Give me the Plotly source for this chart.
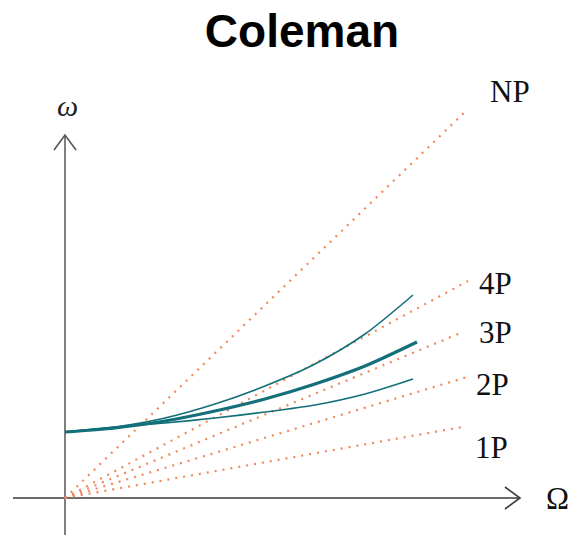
import plotly.graph_objects as go

# Rotor speed Omega and whirl frequencies omega of three modes (Campbell / Coleman diagram)
omega_rotor_top = [0.0, 0.5, 1.0, 1.5, 2.0, 2.5, 3.0, 3.48]
mode_top = [0.66, 0.71, 0.80, 0.94, 1.12, 1.34, 1.64, 2.03]

omega_rotor_mid = [0.0, 0.5, 1.0, 1.5, 2.0, 2.5, 3.0, 3.52]
mode_mid = [0.66, 0.70, 0.77, 0.87, 0.99, 1.14, 1.32, 1.56]

omega_rotor_low = [0.0, 0.5, 1.0, 1.5, 2.0, 2.5, 3.0, 3.48]
mode_low = [0.66, 0.71, 0.75, 0.80, 0.86, 0.93, 1.04, 1.19]

# Per-revolution excitation rays (start at origin, end points)
ray_names = ["NP", "4P", "3P", "2P", "1P"]
ray_end_x = [4.03, 4.03, 3.98, 4.02, 3.97]
ray_end_y = [3.89, 2.17, 1.66, 1.21, 0.71]
ray_label_x = [4.45, 4.30, 4.30, 4.27, 4.26]
ray_label_y = [4.07, 2.15, 1.66, 1.14, 0.51]

TEAL = "#136f79"
ORANGE = "#f2875a"

fig = go.Figure()

# Axes drawn as arrows through the origin
x_axis_start, x_axis_end = -0.52, 4.55
y_axis_start, y_axis_end = -0.37, 3.63
axis_col_x = "#3a3a3a"
axis_col_y = "#808080"
fig.add_trace(go.Scatter(x=[x_axis_start, x_axis_end], y=[0, 0], mode="lines",
                         line=dict(color=axis_col_x, width=1.6), hoverinfo="skip"))
fig.add_trace(go.Scatter(x=[x_axis_end - 0.15, x_axis_end, x_axis_end - 0.15],
                         y=[0.11, 0, -0.11], mode="lines",
                         line=dict(color=axis_col_x, width=1.6), hoverinfo="skip"))
fig.add_trace(go.Scatter(x=[0, 0], y=[y_axis_start, y_axis_end], mode="lines",
                         line=dict(color=axis_col_y, width=2), hoverinfo="skip"))
fig.add_trace(go.Scatter(x=[-0.11, 0, 0.11],
                         y=[y_axis_end - 0.15, y_axis_end, y_axis_end - 0.15], mode="lines",
                         line=dict(color="#555555", width=1.6), hoverinfo="skip"))

# Excitation rays
for name, ex, ey in zip(ray_names, ray_end_x, ray_end_y):
    fig.add_trace(go.Scatter(x=[0, ex], y=[0, ey], mode="lines", name=name,
                             line=dict(color=ORANGE, width=2.2, dash="2px,6px"),
                             hoverinfo="skip"))

# Mode curves
spline = dict(shape="spline", smoothing=0.8)
fig.add_trace(go.Scatter(x=omega_rotor_top, y=mode_top, mode="lines",
                         line=dict(color=TEAL, width=1.6, **spline)))
fig.add_trace(go.Scatter(x=omega_rotor_low, y=mode_low, mode="lines",
                         line=dict(color=TEAL, width=1.6, **spline)))
fig.add_trace(go.Scatter(x=omega_rotor_mid, y=mode_mid, mode="lines",
                         line=dict(color=TEAL, width=3.2, **spline)))

serif = "Liberation Serif, Times New Roman, serif"
annotations = []
for name, lx, ly in zip(ray_names, ray_label_x, ray_label_y):
    annotations.append(dict(x=lx, y=ly, text=name, showarrow=False,
                            font=dict(family=serif, size=31, color="#111111"),
                            xanchor="center", yanchor="middle"))
annotations.append(dict(x=4.92, y=0.0, text="Ω", showarrow=False,
                        font=dict(family=serif, size=31, color="#111111"),
                        xanchor="center", yanchor="middle"))
annotations.append(dict(x=0.02, y=3.93, text="<i>ω</i>", showarrow=False,
                        font=dict(family=serif, size=30, color="#222222"),
                        xanchor="center", yanchor="middle"))

fig.update_layout(
    width=572, height=535,
    margin=dict(l=0, r=0, t=0, b=0),
    paper_bgcolor="white", plot_bgcolor="white",
    showlegend=False,
    title=dict(text="<b>Coleman</b>", x=302 / 572, xanchor="center",
               y=1 - 31 / 535, yanchor="middle", yref="container",
               font=dict(family="Liberation Sans, Arial, sans-serif", size=46, color="black")),
    xaxis=dict(range=[-0.65, 5.07], visible=False, fixedrange=True),
    yaxis=dict(range=[-0.37, 4.98], visible=False, fixedrange=True),
    annotations=annotations,
)

fig.write_html("out.html")
